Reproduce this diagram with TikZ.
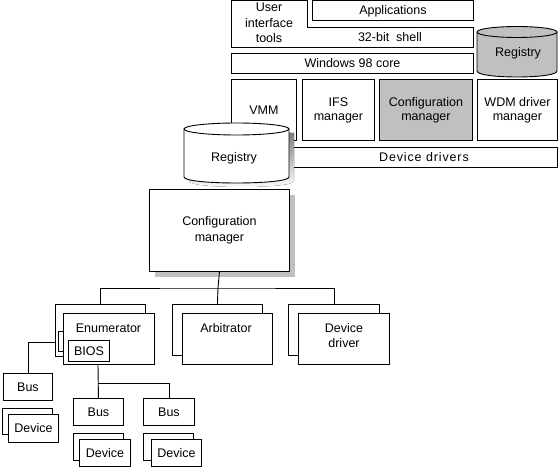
\documentclass[tikz,border=0pt]{standalone}
\usepackage{fontspec}
\setmainfont{Liberation Sans}
\usetikzlibrary{positioning,shadows}
\definecolor{shade}{RGB}{192,192,192}

\begin{document}
\begin{tikzpicture}[
  x=1pt, y=-1pt,
  box/.style={draw, fill=white, line width=0.9pt, inner sep=0pt, anchor=north west, align=center, font=\fontsize{12.5}{15.5}\selectfont},
  tight/.style={box, font=\fontsize{12.5}{14}\selectfont},
  txt/.style={inner sep=0pt, align=center, font=\fontsize{12.5}{15.5}\selectfont},
  wire/.style={line width=0.9pt},
  shadowed/.style={drop shadow={shadow xshift=5.5pt, shadow yshift=-5.5pt, fill=shade, opacity=1}}
]
\useasboundingbox (0,0) rectangle (558,470);

% upper stack
\draw[wire, fill=white] (231,0.5) -- (307,0.5) -- (307,27) -- (473,27) -- (473,47) -- (231,47) -- cycle;
\node[txt] (uitools) at (269,23) {User\\interface\\tools};
\node[txt] (shell) at (390,37) {32-bit\ \ shell};
\node[box, minimum width=161pt, minimum height=20pt] (apps) at (312,0.5) {Applications};
\node[box, minimum width=242pt, minimum height=20pt] (core) at (231,53) {Windows 98 core};
\node[tight, minimum width=65pt, minimum height=61pt] (vmm) at (231,79) {VMM};
\node[tight, minimum width=72pt, minimum height=61pt] (ifs) at (302,79) {IFS\\manager};
\node[tight, fill=shade, minimum width=93pt, minimum height=61pt] (cfgtop) at (379,79) {Configuration\\manager};
\node[tight, minimum width=80pt, minimum height=61pt] (wdm) at (477,79) {WDM driver\\manager};
\node[box, minimum width=267pt, minimum height=20pt, font=\fontsize{12.5}{15.5}\selectfont\addfontfeature{LetterSpace=7}] (drivers) at (290,147) {Device drivers};

% registry, upper right
\filldraw[fill=shade, wire] (477,32) -- (477,71) .. controls (477,79) and (557,79) .. (557,71) -- (557,32);
\draw[wire, fill=shade] (517,32) ellipse [x radius=40, y radius=5.5];
\node[txt] (regtop) at (518,53) {Registry};

% registry, middle
\fill[shade, xshift=5pt, yshift=-4pt] (184,129) -- (184,177) .. controls (184,185) and (289,185) .. (289,177) -- (289,129) -- cycle;
\filldraw[fill=white, wire] (184,129) -- (184,177) .. controls (184,185) and (289,185) .. (289,177) -- (289,129);
\draw[wire, fill=white] (236.5,129) ellipse [x radius=52.5, y radius=6];
\node[txt] (regmid) at (234,158) {Registry};

% configuration manager tree
\node[box, shadowed, minimum width=140pt, minimum height=82pt] (cmlow) at (149,189) {Configuration\\manager};
\coordinate (split) at (218,288);

\node[box, minimum width=90pt, minimum height=52pt] (enumback) at (55,304) {};
\node[box, minimum width=12pt, minimum height=20pt] (biosback) at (58,331) {};
\node[box, minimum width=91pt, minimum height=51pt] (enumfront) at (63,313) {};
\node[txt] (enumlbl) at (108.5,328) {Enumerator};
\node[box, minimum width=41pt, minimum height=21pt] (bios) at (68,340) {BIOS};

\node[box, minimum width=90pt, minimum height=51pt] (arbback) at (172,304) {};
\node[box, minimum width=90pt, minimum height=51pt] (arbfront) at (182,313) {};
\node[txt] (arblbl) at (226,328) {Arbitrator};

\node[box, minimum width=91pt, minimum height=51pt] (drvback) at (288,304) {};
\node[box, minimum width=91pt, minimum height=51pt] (drvfront) at (298,313) {};
\node[txt] (drvlbl) at (344,335.5) {Device\\driver};

\node[box, minimum width=49pt, minimum height=27pt] (busa) at (3,373) {Bus};
\node[box, minimum width=50pt, minimum height=26pt] (devaback) at (2,408) {};
\node[box, minimum width=50pt, minimum height=28pt] (devafront) at (8,414) {Device};

\node[box, minimum width=50pt, minimum height=27pt] (busb) at (73,398) {Bus};
\node[box, minimum width=50pt, minimum height=27pt] (devbback) at (73,433) {};
\node[box, minimum width=51pt, minimum height=27pt] (devbfront) at (79,439) {Device};

\node[box, minimum width=51pt, minimum height=27pt] (busc) at (143,398) {Bus};
\node[box, minimum width=50pt, minimum height=27pt] (devcback) at (143,433) {};
\node[box, minimum width=50pt, minimum height=27pt] (devcfront) at (151,439) {Device};

\draw[wire] (cmlow.south) -- (split);
\draw[wire] (enumback.north) |- (split) -| (drvback.north);
\draw[wire] (split) -- (arbback.north);
\draw[wire] ([yshift=-12pt]enumback.west) -| (busa.north);
\coordinate (busfork) at (98,383);
\draw[wire] (enumfront.south -| busfork) -- (busb.north);
\draw[wire] (busfork) -| (busc.north);
\end{tikzpicture}
\end{document}
